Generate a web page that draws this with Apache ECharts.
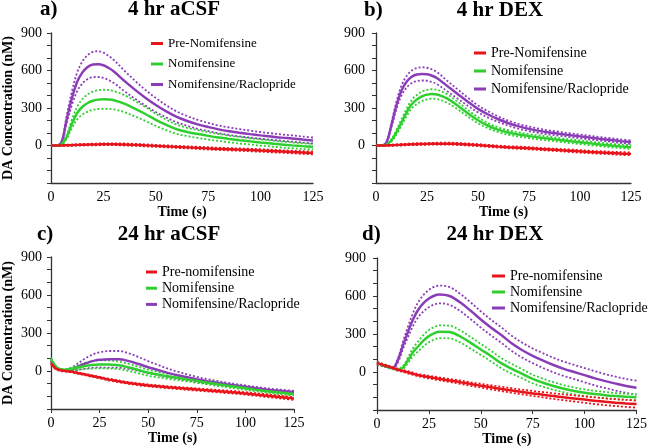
<!DOCTYPE html>
<html>
<head>
<meta charset="utf-8">
<script src="https://cdn.jsdelivr.net/npm/echarts@6/dist/echarts.min.js"></script>
<style>html,body{margin:0;padding:0;background:#fff;}#c{width:650px;height:448px;}</style>
</head>
<body>
<div id="c"></div>
<script>
// Time points (s)
const T = [0,2.5,5,7.5,10,12.5,15,17.5,20,22.5,25,27.5,30,35,40,45,50,55,60,65,70,75,80,85,90,95,100,105,110,115,120,125];
const X_TICKS = [0,25,50,75,100,125];
const Y_LABELS = [0,300,600,900];

// Panel a) 4 hr aCSF
const A_PRE = [0,0,0,2,3,5,6,7,8,9,10,10,10,8,5,1,-3,-7,-11,-15,-19,-23,-27,-30,-33,-36,-40,-44,-48,-52,-56,-60];
const A_PRE_SEM = [2,3,4,5,5,6,6,6,7,7,7,7,7,8,8,8,8,8,8,8,9,9,9,9,9,10,10,10,10,10,11,11];
const A_NOM = [0,0,8,70,175,260,310,340,358,367,370,368,362,335,295,252,205,165,130,108,92,77,64,52,42,33,24,16,8,1,-5,-10];
const A_NOM_SEM = [0,0,3,15,35,50,62,69,73,75,76,75,73,68,62,55,48,42,37,33,31,29,28,27,26,25,25,24,24,23,23,22];
const A_RAC = [0,0,25,210,380,510,585,628,648,651,642,620,592,517,447,382,324,273,229,196,169,148,129,114,102,91,81,72,63,56,48,40];
const A_RAC_SEM = [0,0,5,30,55,75,88,96,101,103,101,97,92,82,72,63,56,49,43,39,36,33,31,30,29,28,27,26,25,25,24,24];

// Panel b) 4 hr DEX
const B_PRE = [0,0,0,2,4,6,8,10,11,12,13,14,15,15,12,8,3,-3,-9,-14,-18,-22,-27,-32,-37,-42,-47,-52,-56,-60,-64,-67];
const B_PRE_SEM = [2,3,4,5,5,6,6,6,7,7,7,7,7,8,8,8,8,8,8,8,9,9,9,9,9,10,10,10,10,10,11,11];
const B_NOM = [0,0,5,40,105,185,265,330,368,393,407,412,408,375,320,258,202,158,125,104,88,75,64,54,44,35,26,17,8,0,-7,-13];
const B_NOM_SEM = [0,0,3,10,18,25,30,34,36,38,38,38,37,34,30,27,24,21,19,18,17,16,16,15,15,15,14,14,14,14,14,14];
const B_RAC = [0,0,20,160,320,440,510,550,568,573,570,558,538,475,412,350,293,248,210,178,153,133,117,104,93,83,73,63,53,44,35,27];
const B_RAC_SEM = [0,0,5,18,30,40,46,50,52,53,52,50,48,42,37,32,28,25,22,20,19,18,17,16,16,15,15,15,14,14,14,14];

// Panel c) 24 hr aCSF
const C_PRE = [60,20,5,0,-5,-12,-20,-28,-36,-44,-52,-60,-68,-82,-95,-105,-114,-121,-128,-134,-140,-146,-152,-158,-164,-170,-177,-185,-193,-201,-209,-217];
const C_PRE_SEM = [15,8,5,4,4,5,5,5,6,6,6,6,7,7,7,8,8,8,8,8,9,9,9,9,10,10,10,10,11,11,11,12];
const C_NOM = [95,35,12,10,15,23,32,40,46,50,52,52,51,45,28,8,-14,-28,-42,-54,-66,-78,-90,-102,-114,-125,-136,-147,-157,-166,-174,-182];
const C_NOM_SEM = [10,6,3,5,10,15,20,25,28,30,32,32,32,30,28,26,24,22,20,18,16,15,14,14,13,13,13,12,12,12,12,12];
const C_RAC = [80,25,10,5,12,25,42,58,72,82,88,91,92,92,78,55,30,8,-15,-33,-50,-67,-80,-92,-104,-115,-125,-135,-145,-153,-160,-167];
const C_RAC_SEM = [15,8,3,3,10,20,30,40,48,55,60,64,66,66,62,55,48,40,34,28,24,20,17,15,13,12,11,10,10,10,10,10];

// Panel d) 24 hr DEX
const D_PRE = [70,58,45,32,18,8,-3,-15,-25,-33,-40,-47,-54,-67,-80,-95,-108,-121,-134,-146,-158,-169,-180,-190,-200,-209,-218,-227,-235,-242,-248,-253];
const D_PRE_SEM = [8,8,8,8,8,8,9,9,9,10,10,11,11,12,13,14,15,16,17,18,19,20,21,22,23,24,25,26,27,27,28,28];
const D_NOM = [70,55,42,30,18,35,95,160,205,250,283,305,318,315,282,232,178,125,68,25,-15,-55,-85,-110,-132,-150,-163,-174,-183,-190,-196,-200];
const D_NOM_SEM = [8,6,5,5,5,12,22,32,40,45,48,50,50,50,48,46,44,42,40,38,36,34,32,30,28,27,26,25,25,24,24,24];
const D_RAC = [70,55,42,30,90,210,320,420,495,545,580,602,612,600,550,485,415,350,290,225,172,128,90,55,25,0,-25,-50,-72,-92,-110,-124];
const D_RAC_SEM = [10,8,6,5,15,30,42,52,60,65,68,70,70,70,68,66,64,62,61,60,59,58,58,57,57,56,56,56,55,55,55,55];

const NAMES_AB = ['Pre-Nomifensine','Nomifensine','Nomifensine/Raclopride'];
const NAMES_CD = ['Pre-nomifensine','Nomifensine','Nomifensine/Raclopride'];
const TITLES = ['4 hr aCSF','4 hr DEX','24 hr aCSF','24 hr DEX'];
const LETTERS = ['a)','b)','c)','d)'];

const COLORS = ['#e8141b','#2fcf2f','#8b3db8'];
const FONT = '"Liberation Serif", "Times New Roman", serif';

const panels = [
  {grid:{left:50,top:33,width:263,height:150}, names:NAMES_AB, mean:[A_PRE,A_NOM,A_RAC], sem:[A_PRE_SEM,A_NOM_SEM,A_RAC_SEM],
   yName:true, xTicks:false, labelMargin:9, titleX:174, letterX:40, titleY:10,
   legend:{left:151, top:37, itemWidth:12, gap:7.5, font:13}},
  {grid:{left:376,top:33,width:255,height:150}, names:NAMES_AB, mean:[B_PRE,B_NOM,B_RAC], sem:[B_PRE_SEM,B_NOM_SEM,B_RAC_SEM],
   yName:false, xTicks:false, labelMargin:11, titleX:500, letterX:364, titleY:11,
   legend:{left:474, top:46, itemWidth:12, gap:4, font:14}},
  {grid:{left:49,top:257,width:245,height:152}, names:NAMES_CD, mean:[C_PRE,C_NOM,C_RAC], sem:[C_PRE_SEM,C_NOM_SEM,C_RAC_SEM],
   yName:true, xTicks:true, labelMargin:9, titleX:169, letterX:37, titleY:235,
   legend:{left:146, top:265, itemWidth:11, gap:2.2, font:14}},
  {grid:{left:377,top:258,width:260,height:152}, names:NAMES_CD, mean:[D_PRE,D_NOM,D_RAC], sem:[D_PRE_SEM,D_NOM_SEM,D_RAC_SEM],
   yName:false, xTicks:true, labelMargin:11, titleX:495, letterX:362, titleY:235,
   legend:{left:492, top:269, itemWidth:13, gap:2, font:14}}
];

const grids = [], xAxes = [], yAxes = [], series = [], legends = [], graphics = [];
const axisColor = '#333';

panels.forEach((p, i) => {
  grids.push(Object.assign({containLabel:false}, p.grid));
  xAxes.push({
    type:'value', gridIndex:i, min:X_TICKS[0], max:X_TICKS[X_TICKS.length-1], interval:X_TICKS[1]-X_TICKS[0],
    name:'Time (s)', nameLocation:'middle', nameGap:19,
    nameTextStyle:{fontFamily:FONT, fontWeight:'bold', fontSize:14, color:'#000'},
    axisLine:{onZero:false, lineStyle:{color:axisColor, width:1.3}},
    axisTick:{show:p.xTicks, length:4, lineStyle:{color:axisColor}},
    axisLabel:{fontFamily:FONT, fontSize:14, color:'#000', margin:7},
    splitLine:{show:false}
  });
  yAxes.push({
    type:'value', gridIndex:i, min:-300, max:900, interval:100,
    name: p.yName ? 'DA Concentration (nM)' : '', nameLocation:'middle', nameGap:36,
    nameTextStyle:{fontFamily:FONT, fontWeight:'bold', fontSize:14, color:'#000'},
    axisLine:{show:true, onZero:false, lineStyle:{color:axisColor, width:1.3}},
    axisTick:{show:true, length:4, lineStyle:{color:axisColor}},
    axisLabel:{fontFamily:FONT, fontSize:14, color:'#000', margin:p.labelMargin,
      formatter: v => (Y_LABELS.indexOf(v) >= 0 ? String(v) : '')},
    splitLine:{show:false}
  });
  // error band lines (dotted)
  [2,1,0].forEach(k => {
    const m = p.mean[k], s = p.sem[k];
    ['hi','lo'].forEach(side => {
      series.push({
        type:'line', name:p.names[k]+' '+side, xAxisIndex:i, yAxisIndex:i,
        data:T.map((t,j) => [t, side==='hi' ? m[j]+s[j] : m[j]-s[j]]),
        smooth:0.35, showSymbol:false, silent:true, z:2,
        color:COLORS[k],
        lineStyle:{color:COLORS[k], width:1.8, type:[2,2]}
      });
    });
  });
  // means
  [2,1,0].forEach(k => {
    series.push({
      type:'line', name:p.names[k], xAxisIndex:i, yAxisIndex:i,
      data:T.map((t,j) => [t, p.mean[k][j]]),
      smooth:0.35, showSymbol:false, z:3,
      color:COLORS[k],
      lineStyle:{color:COLORS[k], width:2.5}
    });
  });
  legends.push({
    data:p.names.map(n => ({name:n, icon:'rect'})), orient:'vertical',
    left:p.legend.left, top:p.legend.top, itemWidth:p.legend.itemWidth, itemHeight:3,
    itemGap:p.legend.gap, padding:0, selectedMode:false,
    textStyle:{fontFamily:FONT, fontSize:p.legend.font, color:'#000'}
  });
  graphics.push({type:'text', x:p.titleX, y:p.titleY, style:{text:TITLES[i], font:'bold 21px '+FONT, fill:'#000', textAlign:'center', align:'center', textVerticalAlign:'middle', verticalAlign:'middle'}});
  graphics.push({type:'text', x:p.letterX, y:p.titleY, style:{text:LETTERS[i], font:'bold 21px '+FONT, fill:'#000', textAlign:'left', align:'left', textVerticalAlign:'middle', verticalAlign:'middle'}});
});

const chart = echarts.init(document.getElementById('c'), null, {renderer:'canvas'});
chart.setOption({
  animation:false,
  backgroundColor:'#fff',
  grid:grids, xAxis:xAxes, yAxis:yAxes, series:series, legend:legends, graphic:graphics
});
</script>
</body>
</html>
